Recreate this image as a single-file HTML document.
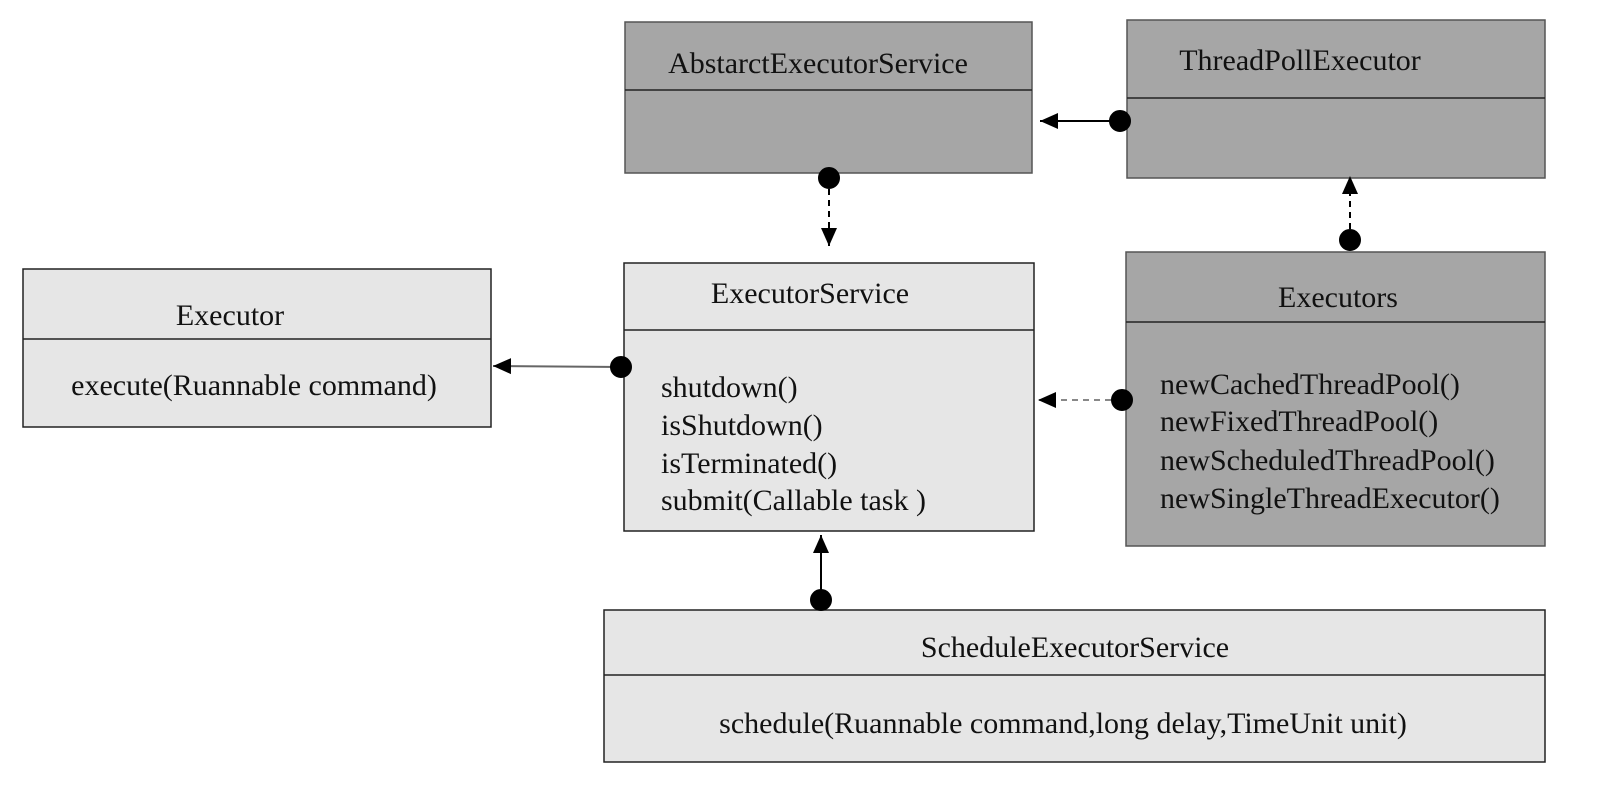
<!DOCTYPE html>
<html><head><meta charset="utf-8"><style>
body{margin:0;background:#fff;width:1609px;height:799px;overflow:hidden}
svg text{font-family:"Liberation Serif",serif;font-size:30px;fill:#111}
</style></head><body>
<svg width="1609" height="799" viewBox="0 0 1609 799">
<defs>
<marker id="b" viewBox="0 0 20 20" markerWidth="20" markerHeight="20" refX="18" refY="10" orient="auto" markerUnits="userSpaceOnUse"><path d="M0,2 L18,10 L0,18 Z" fill="#000"/></marker></defs>
<g stroke="#555" stroke-width="1.5">
<rect x="625" y="22" width="407" height="151" fill="#a6a6a6"/><line x1="625" y1="90" x2="1032" y2="90" stroke="#222"/>
<rect x="1127" y="20" width="418" height="158" fill="#a6a6a6"/><line x1="1127" y1="98" x2="1545" y2="98" stroke="#222"/>
<rect x="23" y="269" width="468" height="158" fill="#e6e6e6" stroke="#222"/><line x1="23" y1="339" x2="491" y2="339" stroke="#222"/>
<rect x="624" y="263" width="410" height="268" fill="#e6e6e6" stroke="#222"/><line x1="624" y1="330" x2="1034" y2="330" stroke="#222"/>
<rect x="1126" y="252" width="419" height="294" fill="#a6a6a6"/><line x1="1126" y1="322" x2="1545" y2="322" stroke="#222"/>
<rect x="604" y="610" width="941" height="152" fill="#e6e6e6" stroke="#222"/><line x1="604" y1="675" x2="1545" y2="675" stroke="#222"/>
</g>
<text x="818" y="73" text-anchor="middle">AbstarctExecutorService</text>
<text x="1300" y="70" text-anchor="middle">ThreadPollExecutor</text>
<text x="230" y="325" text-anchor="middle">Executor</text>
<text x="254" y="395" text-anchor="middle">execute(Ruannable command)</text>
<text x="810" y="303" text-anchor="middle">ExecutorService</text>
<text x="661" y="397">shutdown()</text>
<text x="661" y="435">isShutdown()</text>
<text x="661" y="473">isTerminated()</text>
<text x="661" y="510">submit(Callable task )</text>
<text x="1338" y="307" text-anchor="middle">Executors</text>
<text x="1160" y="394">newCachedThreadPool()</text>
<text x="1160" y="431">newFixedThreadPool()</text>
<text x="1160" y="470">newScheduledThreadPool()</text>
<text x="1160" y="508">newSingleThreadExecutor()</text>
<text x="1075" y="657" text-anchor="middle">ScheduleExecutorService</text>
<text x="1063" y="733" text-anchor="middle">schedule(Ruannable command,long delay,TimeUnit unit)</text>
<g fill="#000" stroke="#000" stroke-width="2">
<line x1="1120" y1="121" x2="1040" y2="121" marker-end="url(#b)"/><circle cx="1120" cy="121" r="10"/>
<line x1="829" y1="178" x2="829" y2="246" stroke-dasharray="6,5" marker-end="url(#b)"/><circle cx="829" cy="178" r="10"/>
<line x1="1350" y1="240" x2="1350" y2="176" stroke-dasharray="6,5" marker-end="url(#b)"/><circle cx="1350" cy="240" r="10"/>
<line x1="1122" y1="400" x2="1038" y2="400" stroke="#888" stroke-dasharray="6,5" marker-end="url(#b)"/><circle cx="1122" cy="400" r="10"/>
<line x1="621" y1="367" x2="493" y2="366" stroke="#666" marker-end="url(#b)"/><circle cx="621" cy="367" r="10"/>
<line x1="821" y1="600" x2="821" y2="535" marker-end="url(#b)"/><circle cx="821" cy="600" r="10"/>
</g>
</svg>
</body></html>
